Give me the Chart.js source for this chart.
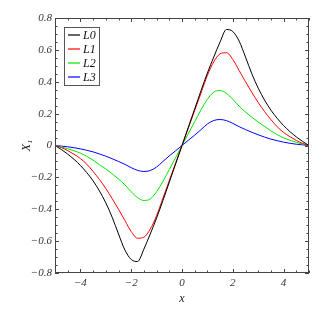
<!DOCTYPE html>
<html>
<head>
<meta charset="utf-8">
<script src="https://cdn.jsdelivr.net/npm/chart.js@4/dist/chart.umd.min.js"></script>
<style>
  html, body { margin: 0; padding: 0; background: #fff; }
  #wrap { width: 325px; height: 311px; position: relative; }
</style>
</head>
<body>
<div id="wrap"><canvas id="c" width="325" height="311"></canvas></div>
<script>
const xValues = [-5, -4.75, -4.5, -4.25, -4, -3.75, -3.5, -3.25, -3, -2.75, -2.5, -2.25, -2, -1.75, -1.5, -1.25, -1, -0.75, -0.5, -0.25,
  0, 0.25, 0.5, 0.75, 1, 1.25, 1.5, 1.75, 2, 2.25, 2.5, 2.75, 3, 3.25, 3.5, 3.75, 4, 4.25, 4.5, 4.75, 5];
const L0 = [0, -0.025, -0.054, -0.087, -0.125, -0.17, -0.222, -0.285, -0.36, -0.45, -0.555, -0.655, -0.715, -0.728, -0.65, -0.555, -0.455, -0.345, -0.23, -0.115,
  0, 0.115, 0.23, 0.345, 0.455, 0.555, 0.65, 0.728, 0.715, 0.655, 0.555, 0.45, 0.36, 0.285, 0.222, 0.17, 0.125, 0.087, 0.054, 0.025, 0];
const L1 = [0, -0.013, -0.032, -0.055, -0.082, -0.117, -0.163, -0.213, -0.27, -0.333, -0.4, -0.47, -0.54, -0.582, -0.575, -0.525, -0.44, -0.33, -0.22, -0.11,
  0, 0.11, 0.22, 0.33, 0.44, 0.525, 0.575, 0.582, 0.54, 0.47, 0.4, 0.333, 0.27, 0.213, 0.163, 0.117, 0.082, 0.055, 0.032, 0.013, 0];
const L2 = [0, -0.009, -0.02, -0.033, -0.048, -0.068, -0.092, -0.12, -0.147, -0.177, -0.21, -0.247, -0.29, -0.327, -0.345, -0.335, -0.29, -0.225, -0.15, -0.075,
  0, 0.075, 0.15, 0.225, 0.29, 0.335, 0.345, 0.327, 0.29, 0.247, 0.21, 0.177, 0.147, 0.12, 0.092, 0.068, 0.048, 0.033, 0.02, 0.009, 0];
const L3 = [0, -0.004, -0.008, -0.014, -0.021, -0.03, -0.04, -0.053, -0.067, -0.083, -0.1, -0.118, -0.139, -0.156, -0.163, -0.157, -0.135, -0.1, -0.065, -0.033,
  0, 0.033, 0.065, 0.1, 0.135, 0.157, 0.163, 0.156, 0.139, 0.118, 0.1, 0.083, 0.067, 0.053, 0.04, 0.03, 0.021, 0.014, 0.008, 0.004, 0];
const seriesNames = ['L0', 'L1', 'L2', 'L3'];
const xTicks = [-4, -2, 0, 2, 4];
const yTicks = [-0.8, -0.6, -0.4, -0.2, 0, 0.2, 0.4, 0.6, 0.8];
const xTitle = 'x';
const yTitle = 'X\u2081';

const seriesData = [L0, L1, L2, L3];
const colors = ['#000000', '#ff0000', '#00e600', '#0000ff'];
const FONT = "'Liberation Serif', 'DejaVu Serif', serif";
const AXIS = '#444444';

function fmt(v) {
  if (Math.abs(v) < 1e-9) return '0';
  const s = Number.isInteger(v) ? String(Math.abs(v)) : Math.abs(v).toFixed(1);
  return (v < 0 ? '\u2212' : '') + s;
}

const frameTicks = {
  id: 'frameTicks',
  afterDatasetsDraw(chart) {
    const { ctx, chartArea: a, scales: { x, y } } = chart;
    ctx.save();
    ctx.strokeStyle = AXIS;
    ctx.lineWidth = 1;
    ctx.strokeRect(Math.round(a.left) + 0.5, Math.round(a.top) + 0.5,
      Math.round(a.right - a.left) - 1, Math.round(a.bottom - a.top) - 1);
    ctx.beginPath();
    for (let i = -10; i <= 10; i++) {
      const v = i / 2;
      const len = (i % 4 === 0) ? 4 : 2.5;
      const px = Math.round(x.getPixelForValue(v)) + 0.5;
      ctx.moveTo(px, a.bottom); ctx.lineTo(px, a.bottom - len);
      ctx.moveTo(px, a.top); ctx.lineTo(px, a.top + len);
    }
    for (let i = -16; i <= 16; i++) {
      const v = i * 0.05;
      const len = (i % 4 === 0) ? 4 : 2.5;
      const py = Math.round(y.getPixelForValue(v)) + 0.5;
      ctx.moveTo(a.left, py); ctx.lineTo(a.left + len, py);
      ctx.moveTo(a.right, py); ctx.lineTo(a.right - len, py);
    }
    ctx.stroke();
    ctx.restore();
  },
  afterDraw(chart) {
    const { ctx } = chart;
    ctx.save();
    const bx = 64.5, by = 27.5, bw = 35, bh = 58;
    ctx.fillStyle = '#fff';
    ctx.fillRect(bx, by, bw, bh);
    ctx.strokeStyle = '#555';
    ctx.lineWidth = 1;
    ctx.strokeRect(bx, by, bw, bh);
    ctx.font = "italic 12px " + FONT;
    ctx.textBaseline = 'middle';
    ctx.textAlign = 'left';
    chart.data.datasets.forEach((ds, i) => {
      const ry = 35 + i * 14;
      ctx.strokeStyle = colors[i];
      ctx.lineWidth = 1.2;
      ctx.beginPath();
      ctx.moveTo(68, ry); ctx.lineTo(80, ry);
      ctx.stroke();
      ctx.fillStyle = '#111';
      ctx.fillText(ds.label, 83, ry + 1);
    });
    ctx.restore();
  }
};

new Chart(document.getElementById('c'), {
  type: 'line',
  data: {
    datasets: seriesNames.map((name, i) => ({
      label: name,
      data: xValues.map((xv, j) => ({ x: xv, y: seriesData[i][j] })),
      borderColor: colors[i],
      borderWidth: 1,
      pointRadius: 0,
      fill: false,
      cubicInterpolationMode: 'monotone'
    }))
  },
  options: {
    responsive: false,
    animation: false,
    devicePixelRatio: 1,
    layout: { padding: { left: 0, right: 16, top: 18, bottom: 0 } },
    plugins: { legend: { display: false }, tooltip: { enabled: false } },
    scales: {
      x: {
        type: 'linear', min: -5, max: 5,
        afterBuildTicks: s => { s.ticks = xTicks.map(v => ({ value: v })); },
        afterFit: s => { s.height = 38; },
        grid: { display: false, drawTicks: false },
        border: { display: false },
        ticks: { padding: 4, color: '#333', font: { family: FONT, style: 'italic', size: 11 }, callback: v => fmt(v), maxRotation: 0, autoSkip: false },
        title: { display: true, text: xTitle, color: '#222', padding: { top: 0, bottom: 5 }, font: { family: FONT, style: 'italic', size: 12 } }
      },
      y: {
        type: 'linear', min: -0.8, max: 0.8,
        afterBuildTicks: s => { s.ticks = yTicks.map(v => ({ value: v })); },
        afterFit: s => { s.width = 55; },
        grid: { display: false, drawTicks: false },
        border: { display: false },
        ticks: { padding: 3, color: '#333', font: { family: FONT, style: 'italic', size: 11 }, callback: v => fmt(v), autoSkip: false },
        title: { display: true, text: yTitle, color: '#222', padding: { top: 20, bottom: 0 }, font: { family: FONT, style: 'italic', size: 12 } }
      }
    }
  },
  plugins: [frameTicks]
});
</script>
</body>
</html>
